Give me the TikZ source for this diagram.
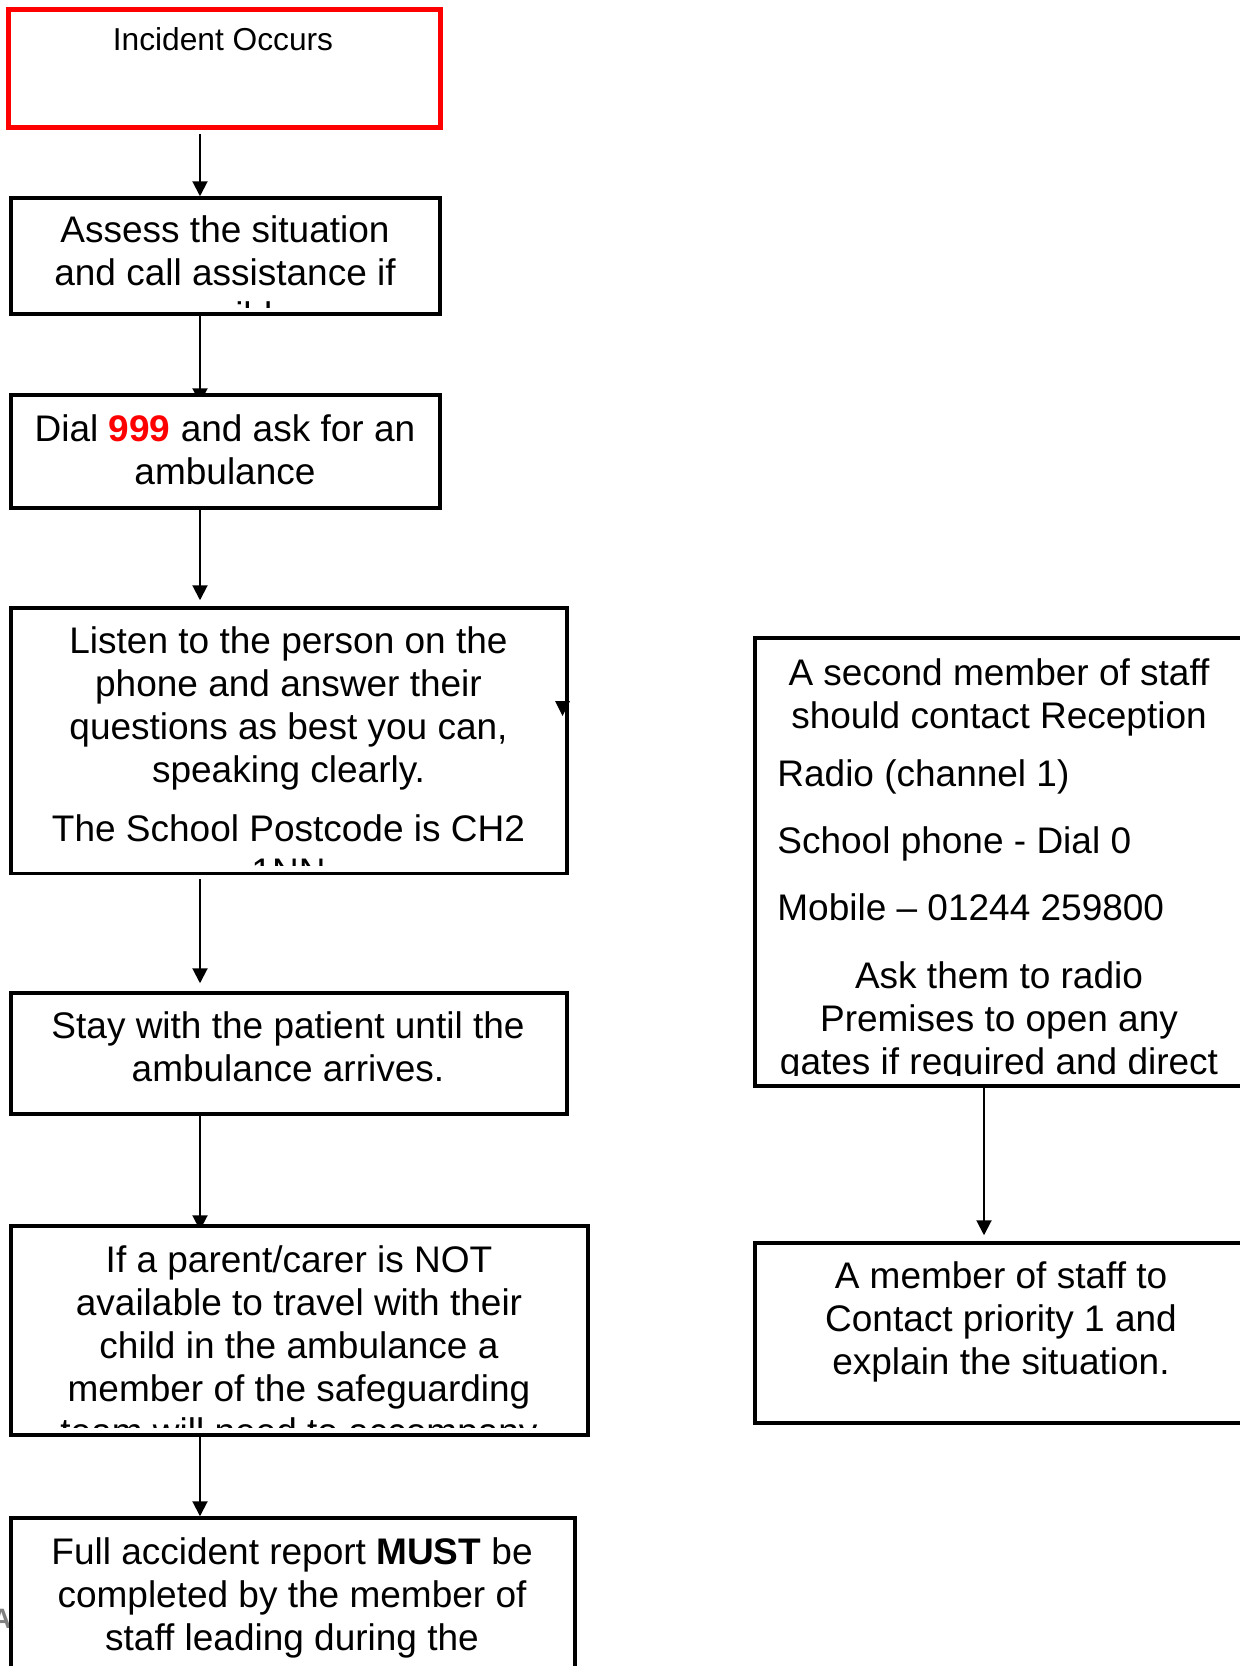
\documentclass[tikz,border=0pt]{standalone}
\usepackage{fontspec}
\setmainfont{Liberation Sans}
\usetikzlibrary{arrows.meta,fit,backgrounds}
\tikzset{
  box/.style={draw=black, line width=1.75pt, fill=white, inner sep=0pt, outer sep=auto, rectangle},
  redbox/.style={box, draw=red, line width=2.5pt},
  txt/.style={font=\fontsize{18.5pt}{21.5pt}\selectfont, align=center, anchor=base, inner sep=0pt},
  ltxt/.style={font=\fontsize{18.5pt}{21.5pt}\selectfont, align=left, anchor=base west, inner sep=0pt},
  arr/.style={line width=1pt, -{Triangle[length=7.5pt,width=7.5pt]}}
}
\begin{document}
\begin{tikzpicture}[x=0.5pt,y=-0.5pt]
\useasboundingbox (0,0) rectangle (1240,1666);
\clip (0,0) rectangle (1240,1666);
\coordinate (colL) at (200,0);
\coordinate (colR) at (984,0);

% gray fragment at the left edge
\node[font=\fontsize{14pt}{16pt}\selectfont\bfseries, text=black!50, anchor=base east, inner sep=0pt] (frag) at (12,1628) {A};

% boxes
\node[redbox, fit={(8,9) (440,127)}] (inc) {};
\node[box, fit={(11,198) (440,314)}] (assess) {};
\node[box, fit={(11,395) (440,508)}] (dial) {};
\node[box, fit={(11,608) (567,873.5)}] (listen) {};
\node[box, fit={(11,993) (567,1114)}] (stay) {};
\node[box, fit={(11,1226) (588,1435)}] (ifb) {};
\node[box, fit={(11,1518) (575,1720)}] (full) {};
\node[box, fit={(755,638) (1265,1086)}] (sec) {};
\node[box, fit={(755,1243) (1265,1423)}] (mem) {};

% texts (anchor = baseline of the last line)
\node[txt, font=\fontsize{15.85pt}{18pt}\selectfont] (tinc) at (223,50.7) {Incident Occurs};
\begin{scope}
\clip (13,200) rectangle (438,307);
\node[txt] (tassess) at (225,328) {Assess the situation\\and call assistance if\\possible};
\end{scope}
\node[txt] (tdial) at (225,484) {Dial \textcolor{red}{\textbf{999}} and ask for an\\ambulance};
\begin{scope}
\clip (13,610) rectangle (565,865);
\node[txt] (tlisten) at (288.5,884) {Listen to the person on the\\phone and answer their\\questions as best you can,\\speaking clearly.\\[8pt]The School Postcode is CH2\\1NN};
\end{scope}
\node[txt] (tstay) at (288,1081) {Stay with the patient until the\\ambulance arrives.};
\begin{scope}
\clip (13,1228) rectangle (586,1427);
\node[txt] (tif) at (299,1444) {If a parent/carer is NOT\\available to travel with their\\child in the ambulance a\\member of the safeguarding\\team will need to accompany};
\end{scope}
\node[txt] (tfull) at (292,1650) {Full accident report \textbf{MUST} be\\completed by the member of\\staff leading during the};
\begin{scope}
\clip (757,640) rectangle (1250,1075.5);
\node[txt] (tsec1) at (999,728) {A second member of staff\\should contact Reception};
\node[ltxt] (tsec2) at (777,920) {Radio (channel 1)\\[12pt]School phone - Dial 0\\[12pt]Mobile – 01244 259800};
\node[txt] (tsec3) at (999,1074) {Ask them to radio\\Premises to open any\\gates if required and direct};
\end{scope}
\node[txt] (tmem) at (1001,1374) {A member of staff to\\Contact priority 1 and\\explain the situation.};

% stray arrowhead on the right of the Listen box
\fill (555,701) -- (570,701) -- (562.5,716) -- cycle;

% connectors
\begin{pgfonlayer}{background}
\draw[arr, shorten <=2.25pt] (inc.south -| colL) -- (assess.north -| colL);
\draw[arr, shorten >=-5pt] (assess.south -| colL) -- (dial.north -| colL);
\draw[arr, shorten >=3pt] (dial.south -| colL) -- (listen.north -| colL);
\draw[arr, shorten <=1.9pt, shorten >=4pt] (listen.south -| colL) -- (stay.north -| colL);
\draw[arr, shorten >=-3pt] (stay.south -| colL) -- (ifb.north -| colL);
\draw[arr] (ifb.south -| colL) -- (full.north -| colL);
\draw[arr, shorten >=3pt] (sec.south -| colR) -- (mem.north -| colR);
\end{pgfonlayer}
\end{tikzpicture}
\end{document}
